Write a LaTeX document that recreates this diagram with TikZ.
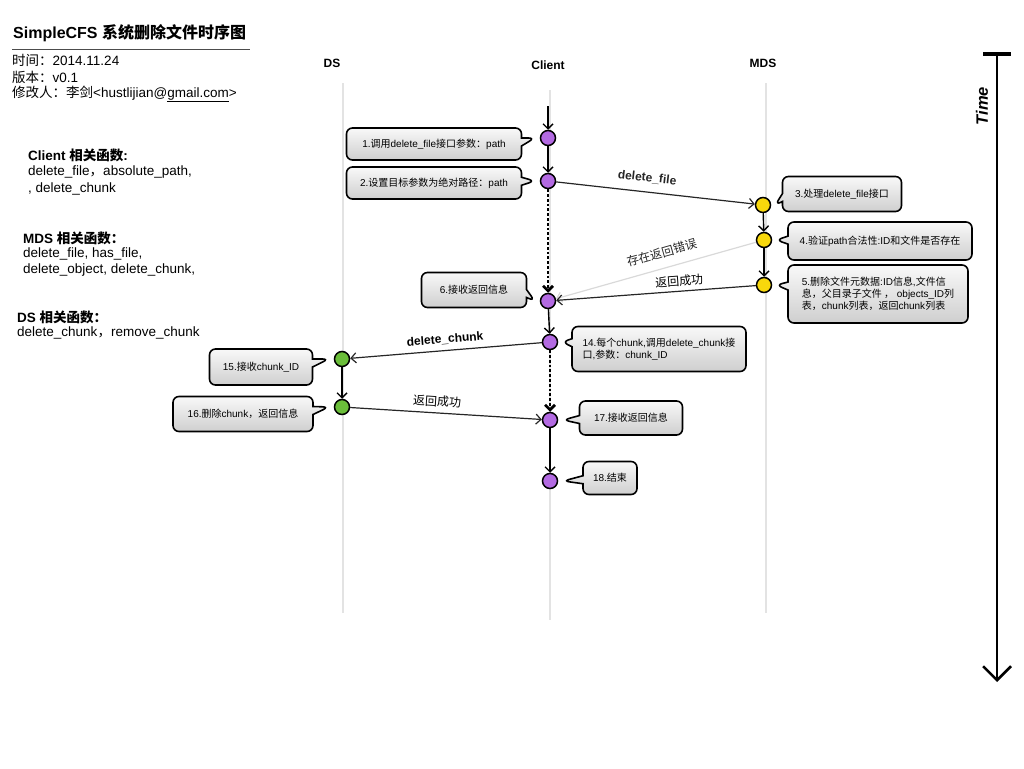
\documentclass[tikz,border=0pt]{standalone}
\usepackage{fontspec}
\setmainfont{Liberation Sans}
\newfontfamily\cjk{Noto Sans CJK SC}
\newcommand\zhs[1]{{\cjk #1}}
\usetikzlibrary{arrows.meta}
\usetikzlibrary{shapes.callouts}
\definecolor{ltpurple}{HTML}{B36AE2}
\definecolor{ltyellow}{HTML}{F8D80C}
\definecolor{ltgreen}{HTML}{6BBE3A}
\tikzset{>={Straight Barb[length=5pt,width=10pt]}}
\tikzset{
  point/.style={circle,draw,line width=1.5pt,inner sep=0pt,minimum size=15pt},
  bubble/.style={rectangle callout,draw,line width=1.6pt,rounded corners=6pt,top color=gray!5,bottom color=gray!38,callout pointer width=8pt,inner sep=2pt,align=left,font=\fontsize{10}{12}\selectfont},
  life/.style={gray!22,line width=2.5pt},
  flow/.style={line width=1.4pt},
  wait/.style={line width=2.8pt,dash pattern=on 2.8pt off 2pt},
  msg/.style={line width=1.2pt,black!85},
  lbl/.style={font=\fontsize{12}{14}\selectfont},
  head/.style={font=\bfseries\fontsize{12}{14}\selectfont},
  info/.style={anchor=west,inner sep=0pt,font=\fontsize{13.5}{16}\selectfont}
}

\begin{document}
\begin{tikzpicture}[x=1pt,y=-1pt]
\useasboundingbox (0,0) rectangle (1024,768);

\node[anchor=west,inner sep=0pt,font=\bfseries\fontsize{16}{18}\selectfont] (title) at (13,33) {SimpleCFS \zhs{系统删除文件时序图}};
\draw[black!70,line width=1pt] (12,50) -- (250,50);
\node[info] (date) at (12,60) {\zhs{时间：}2014.11.24};
\node[info] (ver) at (12,77) {\zhs{版本：}v0.1};
\node[info] (who) at (12,94) {\zhs{修改人：李剑}<hustlijian@\underline{gmail.com}>};

\node[info,font=\bfseries\fontsize{13.5}{16}\selectfont] (fcl) at (28,155) {Client \zhs{相关函数}:};
\node[info] (fcl1) at (28,172) {delete\_file\zhs{，}absolute\_path,};
\node[info] (fcl2) at (28,189) {, delete\_chunk};
\node[info,font=\bfseries\fontsize{13.5}{16}\selectfont] (fmds) at (23,238) {MDS \zhs{相关函数：}};
\node[info] (fmds1) at (23,254) {delete\_file, has\_file,};
\node[info] (fmds2) at (23,270) {delete\_object, delete\_chunk,};
\node[info,font=\bfseries\fontsize{13.5}{16}\selectfont] (fds) at (17,317) {DS \zhs{相关函数：}};
\node[info] (fds1) at (17,333) {delete\_chunk\zhs{，}remove\_chunk};

\node[head] (ds) at (332,63) {DS};
\node[head] (cl) at (548,65) {Client};
\node[head] (mds) at (763,63) {MDS};
\draw[life] (343,83) -- (343,613);
\draw[life] (550,90) -- (550,620);
\draw[life] (766,83) -- (766,613);

\node[point,fill=ltpurple] (c1) at (548,138) {};
\node[point,fill=ltpurple] (c2) at (548,181) {};
\node[point,fill=ltpurple] (c6) at (548,301) {};
\node[point,fill=ltpurple] (c14) at (550,342) {};
\node[point,fill=ltpurple] (c17) at (550,420) {};
\node[point,fill=ltpurple] (c18) at (550,481) {};
\node[point,fill=ltyellow] (m3) at (763,205) {};
\node[point,fill=ltyellow] (m4) at (764,240) {};
\node[point,fill=ltyellow] (m5) at (764,285) {};
\node[point,fill=ltgreen] (d15) at (342,359) {};
\node[point,fill=ltgreen] (d16) at (342,407) {};

\node[bubble,minimum width=175pt,minimum height=32pt,callout absolute pointer={([xshift=-5pt]c1.west)}] (b1) at (434,144) {1.\zhs{调用}delete\_file\zhs{接口参数：}path};
\node[bubble,minimum width=175pt,minimum height=32pt,callout absolute pointer={([xshift=-5pt]c2.west)}] (b2) at (434,183) {2.\zhs{设置目标参数为绝对路径：}path};
\node[bubble,minimum width=105pt,minimum height=35pt,callout absolute pointer={([xshift=-5pt]c6.west)}] (b6) at (474,290) {6.\zhs{接收返回信息}};
\node[bubble,minimum width=119pt,minimum height=35pt,callout absolute pointer={([xshift=4pt]m3.east)}] (b3) at (842,194) {3.\zhs{处理}delete\_file\zhs{接口}};
\node[bubble,minimum width=184pt,minimum height=38pt,callout absolute pointer={([xshift=4pt]m4.east)}] (b4) at (880,241) {4.\zhs{验证}path\zhs{合法性}:ID\zhs{和文件是否存在}};
\node[bubble,minimum width=180pt,minimum height=58pt,callout absolute pointer={([xshift=4pt]m5.east)}] (b5) at (878,294) {5.\zhs{删除文件元数据}:ID\zhs{信息},\zhs{文件信}\\\zhs{息，父目录子文件 ，} objects\_ID\zhs{列}\\\zhs{表，}chunk\zhs{列表，返回}chunk\zhs{列表}};
\node[bubble,minimum width=174pt,minimum height=45pt,callout absolute pointer={([xshift=4pt]c14.east)}] (b14) at (659,349) {14.\zhs{每个}chunk,\zhs{调用}delete\_chunk\zhs{接}\\\zhs{口},\zhs{参数：}chunk\_ID};
\node[bubble,minimum width=103pt,minimum height=36pt,callout absolute pointer={([xshift=-5pt]d15.west)}] (b15) at (261,367) {15.\zhs{接收}chunk\_ID};
\node[bubble,minimum width=140pt,minimum height=35pt,callout absolute pointer={([xshift=-5pt]d16.west)}] (b16) at (243,414) {16.\zhs{删除}chunk\zhs{，返回信息}};
\node[bubble,minimum width=103pt,minimum height=34pt,callout absolute pointer={([xshift=5pt]c17.east)}] (b17) at (631,418) {17.\zhs{接收返回信息}};
\node[bubble,minimum width=54pt,minimum height=33pt,callout absolute pointer={([xshift=5pt]c18.east)}] (b18) at (610,478) {18.\zhs{结束}};

\coordinate (go) at (548,106);
\draw[flow,->] (go) -- (c1);
\draw[flow,->] (c1) -- (c2);
\draw[wait,->] (c2) -- (c6);
\draw[flow,->] (c6) -- (c14);
\draw[wait,->] (c14) -- (c17);
\draw[flow,->] (c17) -- (c18);
\draw[flow,->] (m3) -- (m4);
\draw[flow,->] (m4) -- (m5);
\draw[flow,->] (d15) -- (d16);

\draw[msg,->] (c2) -- (m3) node[pos=0.45,above=5pt,sloped,lbl,font=\bfseries\fontsize{12}{14}\selectfont]{delete\_file};
\draw[msg,gray!30,->] (m4) -- (c6) node[pos=0.45,above=6pt,sloped,lbl,black!85]{\zhs{存在返回错误}};
\draw[msg,->] (m5) -- (c6) node[pos=0.38,above=1pt,sloped,lbl,black]{\zhs{返回成功}};
\draw[msg,->] (c14) -- (d15) node[midway,above=2pt,sloped,lbl,font=\bfseries\fontsize{12}{14}\selectfont,black]{delete\_chunk};
\draw[msg,->] (d16) -- (c17) node[pos=0.45,above=2pt,sloped,lbl,black]{\zhs{返回成功}};

\coordinate (tstart) at (997,54);
\coordinate (tend) at (997,682);
\draw[line width=3.5pt] ([xshift=-14pt]tstart) -- ([xshift=14pt]tstart);
\draw[line width=2.5pt,-{Straight Barb[length=14pt,width=28pt]}] (tstart) -- (tend);
\node[rotate=90,font=\bfseries\itshape\fontsize{16.5}{18}\selectfont] (time) at (982,106) {Time};

\end{tikzpicture}
\end{document}
